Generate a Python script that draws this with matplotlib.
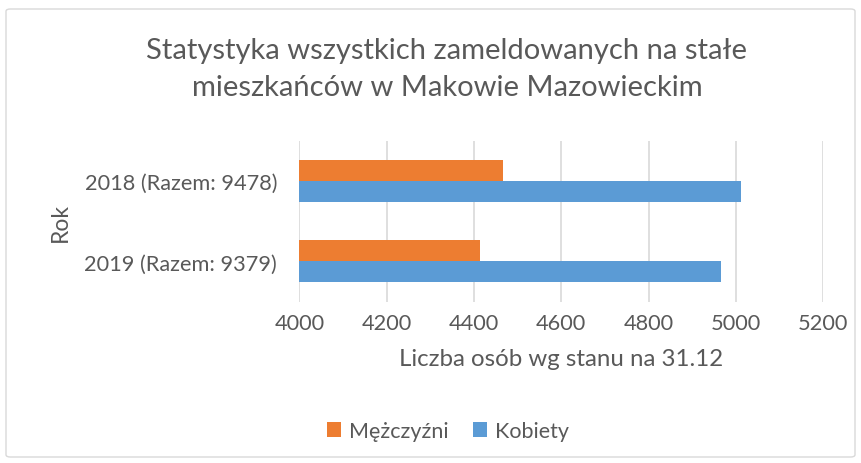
import matplotlib
matplotlib.use("Agg")
import matplotlib.pyplot as plt
from matplotlib.patches import FancyBboxPatch
import numpy as np

years = ["2019 (Razem: 9379)", "2018 (Razem: 9478)"]
men = [4414, 4466]
women = [4965, 5012]
series_names = ["Mężczyźni", "Kobiety"]
colors = ["#ED7D31", "#5B9BD5"]
xticks = [4000, 4200, 4400, 4600, 4800, 5000, 5200]
title_lines = ["Statystyka wszystkich zameldowanych na stałe", "mieszkańców w Makowie Mazowieckim"]

plt.rcParams['font.family'] = ['Lato', 'DejaVu Sans']
W, H = 862, 464
fig = plt.figure(figsize=(W/100, H/100), dpi=100)
fig.patch.set_facecolor("white")
TXT = "#595959"

# outer frame
frame = FancyBboxPatch((6/W, 6/H), (W-13)/W, (H-16)/H, boxstyle="round,pad=0,rounding_size=0.005",
                       transform=fig.transFigure, facecolor="none", edgecolor="#d9d9d9", lw=1, zorder=-1)
fig.patches.append(frame)

ax = fig.add_axes([299.3/W, 1-302.6/H, (823.3-299.3)/W, (302.6-141.8)/H])
ax.set_facecolor("none")
y = np.arange(len(years))
h = 0.26
ax.barh(y + h/2, men, height=h, color=colors[0], label=series_names[0], zorder=3)
ax.barh(y - h/2, women, height=h, color=colors[1], label=series_names[1], zorder=3)
ax.set_xlim(4000, 5200)
ax.set_ylim(-0.5, 1.5)
ax.set_xticks(xticks)
ax.set_xticklabels([str(t) for t in xticks])
ax.set_yticks(y)
ax.set_yticklabels(years)
ax.grid(axis='x', color="#d9d9d9", lw=1.2, zorder=0)
for s in ax.spines.values():
    s.set_visible(False)
ax.tick_params(axis='both', length=0, labelsize=15.7, colors=TXT)
ax.tick_params(axis='x', pad=8)
ax.tick_params(axis='y', pad=16)
ax.set_xlabel("Liczba osób wg stanu na 31.12", fontsize=17.3, color=TXT, labelpad=11)
ax.set_ylabel("Rok", fontsize=16.5, color=TXT)
ax.yaxis.set_label_coords(-(299.3-71)/524, 0.5)

fig.text(447/W, 1-59/H, title_lines[0], ha='center', va='baseline', fontsize=21, color=TXT)
fig.text(447/W, 1-96/H, title_lines[1], ha='center', va='baseline', fontsize=21, color=TXT)

handles, labels = ax.get_legend_handles_labels()
fig.legend(handles, labels, loc='center', bbox_to_anchor=(448/W, 1-432/H), ncol=2, frameon=False,
           fontsize=15.5, labelcolor=TXT, handlelength=0.65, handleheight=0.65, columnspacing=1.15,
           handletextpad=0.35)

fig.savefig("out.png", dpi=100, facecolor="white")
